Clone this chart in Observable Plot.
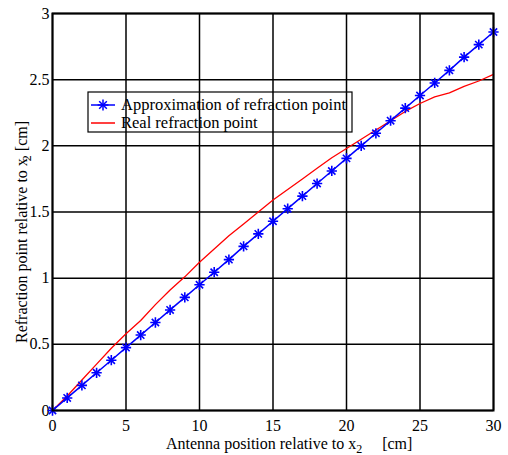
<!DOCTYPE html>
<html><head><meta charset="utf-8">
<script src="https://cdn.jsdelivr.net/npm/d3@7"></script>
<script src="https://cdn.jsdelivr.net/npm/@observablehq/plot@0.6"></script>
<style>body{margin:0;background:#fff} svg text{font-family:'Liberation Serif','DejaVu Serif',serif;}</style>
</head><body><div id="chart"></div>
<script>
const antennaPos = [0,1,2,3,4,5,6,7,8,9,10,11,12,13,14,15,16,17,18,19,20,21,22,23,24,25,26,27,28,29,30];
const approxPoint = [0,0.095,0.19,0.285,0.38,0.475,0.57,0.665,0.76,0.855,0.95,1.045,1.14,1.24,1.335,1.43,1.525,1.62,1.715,1.81,1.905,2.0,2.095,2.19,2.285,2.38,2.475,2.57,2.67,2.765,2.86];
const realPoint = [0,0.11,0.23,0.35,0.47,0.58,0.68,0.80,0.91,1.01,1.12,1.22,1.32,1.41,1.50,1.59,1.67,1.75,1.83,1.91,1.98,2.05,2.12,2.19,2.26,2.32,2.37,2.40,2.45,2.49,2.54];
const xTicks = [0,5,10,15,20,25,30];
const yTicks = [0,0.5,1,1.5,2,2.5,3];
const yTickLabels = ["0","0.5","1","1.5","2","2.5","3"];
const legendLabels = ["Approximation of refraction point","Real refraction point"];

const approx = antennaPos.map((x,i)=>({x, y: approxPoint[i]}));
const real = antennaPos.map((x,i)=>({x, y: realPoint[i]}));

const font = "'Liberation Serif', 'DejaVu Serif', serif";
const plot = Plot.plot({
  width: 508, height: 455,
  marginLeft: 52, marginRight: 15, marginTop: 13, marginBottom: 45,
  style: {fontFamily: font, fontSize: "16px", color: "black", background: "white"},
  x: {domain: [0,30], ticks: xTicks, label: null},
  y: {domain: [0,3], ticks: yTicks, label: null},
  marks: [
    Plot.gridX(xTicks, {stroke: "black", strokeOpacity: 1, strokeWidth: 1.5}),
    Plot.gridY(yTicks, {stroke: "black", strokeOpacity: 1, strokeWidth: 1.5}),
    Plot.axisX({ticks: xTicks, tickSize: 0, tickPadding: 9, fontSize: 16, label: null}),
    Plot.axisY({ticks: yTicks, tickSize: 0, tickPadding: 3, fontSize: 16, label: null, tickFormat: (d,i)=>yTickLabels[i]}),
    Plot.line(real, {x: "x", y: "y", stroke: "#ff0000", strokeWidth: 1.3}),
    Plot.line(approx, {x: "x", y: "y", stroke: "#0000ff", strokeWidth: 1.5}),
    Plot.dot(approx, {x: "x", y: "y", symbol: "plus", r: 3.4, stroke: "#0000ff", strokeWidth: 1.6}),
    Plot.dot(approx, {x: "x", y: "y", symbol: "times", r: 3.4, stroke: "#0000ff", strokeWidth: 1.6}),
    Plot.frame({stroke: "black", strokeWidth: 2})
  ]
});
document.getElementById("chart").appendChild(plot);

const svg = d3.select(plot);
// axis labels
const xl = svg.append("text").attr("x", 166).attr("y", 449).attr("text-anchor","start")
  .attr("font-family", font).attr("font-size", 16).attr("fill","black");
xl.append("tspan").text("Antenna position relative to x");
xl.append("tspan").attr("dy", 4).attr("font-size", 12).text("2");
xl.append("tspan").attr("dy", -4).attr("xml:space","preserve").text("     [cm]");

const yl = svg.append("text").attr("transform","translate(27,343) rotate(-90)").attr("text-anchor","start")
  .attr("font-family", font).attr("font-size", 16).attr("fill","black");
yl.append("tspan").text("Refraction point relative to x");
yl.append("tspan").attr("dy", 4).attr("dx", -3).attr("font-size", 12).text("2");
yl.append("tspan").attr("dy", -4).text(" [cm]");

// legend
const lg = svg.append("g").attr("text-anchor", "start");
lg.append("rect").attr("x", 88).attr("y", 92).attr("width", 264).attr("height", 40)
  .attr("fill", "none").attr("stroke", "black").attr("stroke-width", 1.2);
const items = [{c:"#0000ff", y:105, m:true},{c:"#ff0000", y:123, m:false}];
items.forEach((it,i)=>{
  lg.append("line").attr("x1", 91).attr("x2", 115).attr("y1", it.y).attr("y2", it.y)
    .attr("stroke", it.c).attr("stroke-width", 1.5);
  if (it.m) {
    lg.append("path").attr("d", d3.symbol(d3.symbolPlus, 40)()).attr("transform",`translate(103,${it.y})`)
      .attr("stroke", it.c).attr("fill","none").attr("stroke-width",1.5);
    lg.append("path").attr("d", d3.symbol(d3.symbolTimes, 40)()).attr("transform",`translate(103,${it.y})`)
      .attr("stroke", it.c).attr("fill","none").attr("stroke-width",1.5);
  }
  lg.append("text").attr("x", 121).attr("y", it.y + 5).attr("text-anchor","start").attr("font-family", font).attr("font-size", 16.5)
    .attr("fill","black").text(legendLabels[i]);
});
</script></body></html>
